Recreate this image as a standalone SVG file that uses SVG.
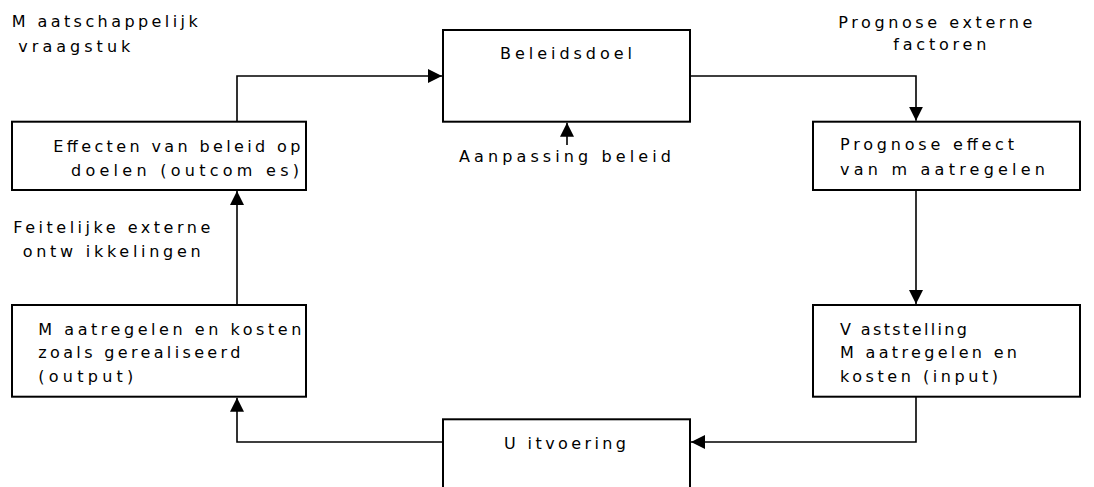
<svg xmlns="http://www.w3.org/2000/svg" width="1094" height="487" viewBox="0 0 1094 487">
<style>
.box{fill:#fff;stroke:#000;stroke-width:2}
.c{fill:none;stroke:#000;stroke-width:1.6}
text{font-family:"DejaVu Sans","Liberation Sans",sans-serif;font-size:16px;fill:#000}
</style>
<defs>
<marker id="ah" viewBox="0 0 14 14" refX="14" refY="7" markerWidth="14" markerHeight="14" markerUnits="userSpaceOnUse" orient="auto">
<path d="M0,0 L14,7 L0,14 Z" fill="#000"/>
</marker>
</defs>
<rect width="1094" height="487" fill="#fff"/>
<g id="connectors">
<path class="c" d="M237,121.7 V76 H442" marker-end="url(#ah)"/>
<path class="c" d="M690,76 H916 V120.7" marker-end="url(#ah)"/>
<path class="c" d="M916,190 V304" marker-end="url(#ah)"/>
<path class="c" d="M916,396.7 V442 H691" marker-end="url(#ah)"/>
<path class="c" d="M443,442 H237 V397.7" marker-end="url(#ah)"/>
<path class="c" d="M237,305 V191" marker-end="url(#ah)"/>
<path class="c" d="M567,145 V122.7" marker-end="url(#ah)"/>
</g>
<g id="label-maatschappelijk">
<text x="11.7" y="26.7" textLength="186" lengthAdjust="spacing">M aatschappelijk</text>
<text x="18.3" y="51.7" textLength="112" lengthAdjust="spacing">vraagstuk</text>
</g>
<g id="label-prognose-extern">
<text x="838.3" y="28.3" textLength="194" lengthAdjust="spacing">Prognose externe</text>
<text x="893.3" y="50" textLength="93" lengthAdjust="spacing">factoren</text>
</g>
<g id="label-feitelijk">
<text x="13.3" y="232.7" textLength="197" lengthAdjust="spacing">Feitelijke externe</text>
<text x="22.7" y="256.7" textLength="178" lengthAdjust="spacing">ontw ikkelingen</text>
</g>
<g id="label-aanpassing">
<text x="459" y="162" textLength="212" lengthAdjust="spacing">Aanpassing beleid</text>
</g>
<g id="node-beleidsdoel">
<rect class="box" x="443" y="30" width="247" height="91.7"/>
<text x="500" y="59.3" textLength="132" lengthAdjust="spacing">Beleidsdoel</text>
</g>
<g id="node-effecten">
<rect class="box" x="12" y="121.7" width="294" height="68.3"/>
<text x="53.3" y="151.7" textLength="247" lengthAdjust="spacing">Effecten van beleid op</text>
<text x="71" y="175.7" textLength="228" lengthAdjust="spacing">doelen  (outcom es)</text>
</g>
<g id="node-prognose-effect">
<rect class="box" x="813" y="121.7" width="267" height="68.3"/>
<text x="840" y="150" textLength="174" lengthAdjust="spacing">Prognose effect</text>
<text x="840" y="175" textLength="205" lengthAdjust="spacing">van  m aatregelen</text>
</g>
<g id="node-vaststelling">
<rect class="box" x="813" y="305" width="267" height="91.7"/>
<text x="840" y="335" textLength="127" lengthAdjust="spacing">V aststelling</text>
<text x="840" y="358.3" textLength="177" lengthAdjust="spacing">M aatregelen en</text>
<text x="840" y="381.7" textLength="158" lengthAdjust="spacing">kosten (input)</text>
</g>
<g id="node-maatregelen">
<rect class="box" x="12" y="305" width="294" height="91.7"/>
<text x="38.3" y="335" textLength="263" lengthAdjust="spacing">M aatregelen en kosten</text>
<text x="38.3" y="358.3" textLength="202" lengthAdjust="spacing">zoals gerealiseerd</text>
<text x="38.3" y="381.7" textLength="95" lengthAdjust="spacing">(output)</text>
</g>
<g id="node-uitvoering">
<rect class="box" x="443" y="419.3" width="247" height="91.7"/>
<text x="504" y="449.3" textLength="122" lengthAdjust="spacing">U itvoering</text>
</g>
</svg>
